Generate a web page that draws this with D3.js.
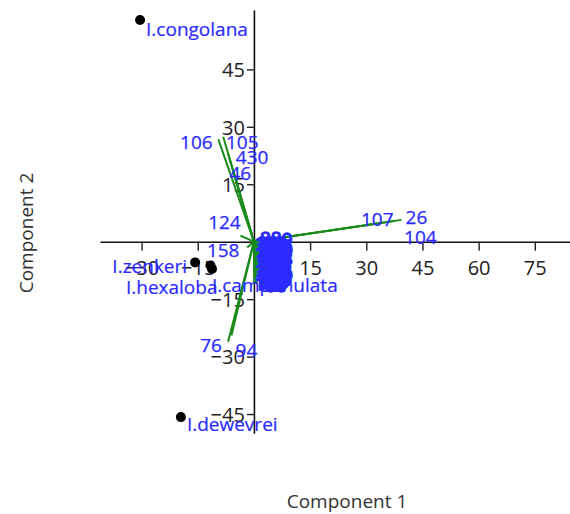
<!DOCTYPE html>
<html>
<head>
<meta charset="utf-8">
<script src="https://cdn.jsdelivr.net/npm/d3@7"></script>
<style>
  body { margin: 0; background: #fff; }
  text { font-family: "Open Sans", "Noto Sans", sans-serif; }
</style>
</head>
<body>
<div id="chart"></div>
<script>
// species scores (component 1, component 2)
var species = ["I.congolana", "I.dewevrei", "I.zenkeri", "I.hexaloba", "I.campanulata"];
var speciesX = [-30.4, -19.5, -15.7, -11.6, -11.2];
var speciesY = [57.9, -45.8, -5.4, -6.2, -7.1];

// long loading vectors
var mainVars = ["106", "105", "430", "46", "124", "158", "107", "26", "104", "76", "94"];
var mainX = [-9.5, -8.2, -6.9, -5.5, -3.6, -1.8, 34.0, 39.4, 37.5, -6.9, -6.0];
var mainY = [26.7, 27.4, 23.0, 18.5, 1.6, -1.5, 4.9, 5.7, 5.4, -26.1, -24.5];

// short loading vectors packed near the origin
var smallVars = ["88", "9", "150", "12", "3", "140", "33", "61", "5", "113",
  "57", "18", "7", "99", "132", "71", "45", "2", "147", "64",
  "28", "6", "118", "85", "53", "8", "136", "39", "77", "1",
  "101", "92", "15", "127", "60", "24", "81", "143", "68", "36",
  "111", "4", "48", "19", "120", "52", "73", "11", "95", "139",
  "63", "10", "29", "87"];
var smallX = [1.6, 7.4, 0.3, 3.2, 6.6, 0.6, 2.4, 4.1, 6.8, 0.2,
  1.9, 3.6, 6.4, 1.1, 0.4, 2.8, 4.2, 6.9, 0.7, 2.0,
  3.9, 6.2, 0.2, 1.5, 3.3, 6.0, 0.5, 2.6, 4.0, 6.3,
  0.3, 1.9, 3.7, 0.8, 2.9, 4.4, 2.2, 0.9, 4.6, 4.5,
  0.6, 7.0, 4.3, 1.3, 0.4, 3.0, 2.7, 4.5, 4.4, 0.1,
  2.4, 4.6, 4.6, 1.7];
var smallY = [1.0, 0.7, -0.4, -0.6, -1.2, -1.8, -2.0, -2.3, -2.7, -3.1,
  -3.4, -3.6, -4.0, -4.4, -4.9, -5.0, -5.3, -5.5, -6.1, -6.4,
  -6.6, -6.9, -7.4, -7.6, -7.9, -8.2, -8.7, -8.9, -9.2, -9.5,
  -9.9, -10.2, -10.4, -11.0, -11.3, -1.4, -0.9, -2.6, -4.4, -8.3,
  -5.7, -3.4, -7.2, -9.4, -10.6, -4.3, -1.4, -6.1, -9.9, -10.8,
  -11.0, -2.0, -8.8, -5.5];

var xTicks = [-30, -15, 15, 30, 45, 60, 75];
var yTicks = [-45, -30, -15, 15, 30, 45];

var width = 570, height = 514;
var blue = "#2b2bff";

var svg = d3.select("#chart").append("svg")
    .attr("width", width)
    .attr("height", height);

var x = d3.scaleLinear().domain([-41.1, 84.4]).range([100, 570]);
var y = d3.scaleLinear().domain([-50, 60.5]).range([433.2, 10]);

// axes crossing at the origin
var xAxis = svg.append("g")
    .attr("transform", "translate(0," + y(0) + ")")
    .call(d3.axisBottom(x).tickValues(xTicks).tickSize(9).tickSizeOuter(0).tickPadding(10));

var yAxis = svg.append("g")
    .attr("transform", "translate(" + x(0) + ",0)")
    .call(d3.axisLeft(y).tickValues(yTicks).tickSize(7).tickSizeOuter(0).tickPadding(2));

[xAxis, yAxis].forEach(function(a) {
  a.select(".domain").attr("stroke", "#111").attr("stroke-width", 1.6);
  a.selectAll(".tick line").attr("stroke", "#222").attr("stroke-width", 1.4);
  a.selectAll(".tick text").attr("fill", "#222").style("font-size", "20px")
    .style("font-family", "'Open Sans', sans-serif");
});
yAxis.selectAll(".tick text").attr("dy", "0.36em");

var vars = mainVars.map(function(n, i) { return { name: n, x: mainX[i], y: mainY[i], small: false }; })
  .concat(smallVars.map(function(n, i) { return { name: n, x: smallX[i], y: smallY[i], small: true }; }));
var pts = species.map(function(n, i) { return { name: n, x: speciesX[i], y: speciesY[i] }; });

// loading vectors
svg.selectAll(".vec")
  .data(vars)
  .enter().append("line")
  .attr("class", "vec")
  .attr("x1", x(0)).attr("y1", y(0))
  .attr("x2", function(d) { return x(d.x); })
  .attr("y2", function(d) { return y(d.y); })
  .attr("stroke", "#1a8a1a")
  .attr("stroke-width", 2);

// label placement tweaks for the long vectors (px): [dx, dy]
var nudge = {
  "106": [-22, 3], "105": [19, 5], "430": [24, 4], "46": [7, 2],
  "124": [-16, -13], "158": [-24, 3], "107": [-4, -4], "26": [15, -3],
  "104": [26, 16], "76": [-17, 3], "94": [15, 15]
};

svg.selectAll(".vlab")
  .data(vars)
  .enter().append("text")
  .attr("class", "vlab")
  .attr("x", function(d) {
    var n = nudge[d.name];
    return n ? x(d.x) + n[0] : x(d.x);
  })
  .attr("y", function(d) {
    var n = nudge[d.name];
    return n ? y(d.y) + n[1] : y(d.y);
  })
  .attr("dy", "0.36em")
  .style("text-anchor", function(d) { return nudge[d.name] ? "middle" : "start"; })
  .style("font-size", "19px")
  .attr("fill", blue)
  .attr("stroke", blue)
  .attr("stroke-width", function(d) { return d.small ? 1.3 : 0.25; })
  .text(function(d) { return d.name; });

// species points
svg.selectAll(".pt")
  .data(pts)
  .enter().append("circle")
  .attr("class", "pt")
  .attr("cx", function(d) { return x(d.x); })
  .attr("cy", function(d) { return y(d.y); })
  .attr("r", 5)
  .attr("fill", "#000");

var spLab = {
  "I.congolana": ["start", 6, 9],
  "I.dewevrei": ["start", 6, 7],
  "I.zenkeri": ["end", -8, 4],
  "I.hexaloba": ["end", 7, 22],
  "I.campanulata": ["start", 0, 16]
};

svg.selectAll(".plab")
  .data(pts)
  .enter().append("text")
  .attr("class", "plab")
  .attr("x", function(d) { return x(d.x) + spLab[d.name][1]; })
  .attr("y", function(d) { return y(d.y) + spLab[d.name][2]; })
  .attr("dy", "0.36em")
  .style("text-anchor", function(d) { return spLab[d.name][0]; })
  .style("font-size", "19px")
  .attr("fill", blue)
  .attr("stroke", blue)
  .attr("stroke-width", 0.2)
  .text(function(d) { return d.name; });

// axis titles
svg.append("text")
  .attr("x", 347).attr("y", 501)
  .attr("dy", "0.36em")
  .style("text-anchor", "middle")
  .style("font-size", "19px")
  .attr("fill", "#333")
  .text("Component 1");

svg.append("text")
  .attr("transform", "translate(26,233) rotate(-90)")
  .attr("dy", "0.36em")
  .style("text-anchor", "middle")
  .style("font-size", "19px")
  .attr("fill", "#333")
  .text("Component 2");
</script>
</body>
</html>
